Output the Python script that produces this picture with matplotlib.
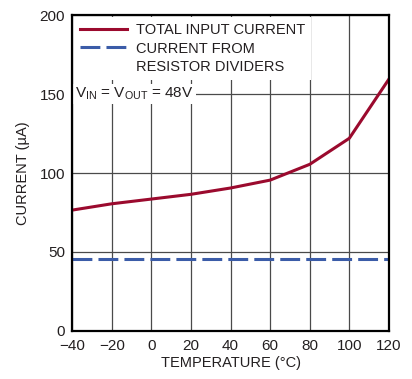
import matplotlib.pyplot as plt

plt.rcParams['font.family'] = ['Liberation Sans', 'DejaVu Sans']
plt.rcParams['mathtext.fontset'] = 'custom'
plt.rcParams['mathtext.rm'] = 'Liberation Sans'
plt.rcParams['mathtext.it'] = 'Liberation Sans'

temp = [-40, -20, 0, 20, 40, 60, 80, 100, 120]
total_current = [76.5, 80.5, 83.5, 86.5, 90.5, 95.5, 105.5, 122, 159.5]
divider_current = [45.5] * len(temp)

txt = '#231f20'
fig = plt.figure(figsize=(4.12, 3.79), dpi=100)
ax = fig.add_axes([0.175, 0.127, 0.769, 0.833])

ax.grid(True, color='#4a4a4a', linewidth=0.9, zorder=0)
ax.plot(temp, total_current, color='#9b0a2e', linewidth=2.2, label='TOTAL INPUT CURRENT', zorder=3)
ax.plot(temp, divider_current, color='#3b5ca8', linewidth=2.2, dashes=(6.5, 2),
        label='CURRENT FROM', zorder=3)
# second line of the dashed entry's label, no handle of its own
ax.plot([], [], color='none', label='RESISTOR DIVIDERS')

ax.set_xlim(-40, 120)
ax.set_ylim(0, 200)
ax.set_xticks(range(-40, 121, 20))
ax.set_yticks(range(0, 201, 50))
ax.tick_params(length=0, labelsize=11, colors=txt)
ax.tick_params(axis='x', pad=6)
ax.tick_params(axis='y', pad=5)
for s in ax.spines.values():
    s.set_linewidth(1.6)
    s.set_zorder(5)

ax.set_xlabel('TEMPERATURE (°C)', fontsize=10.5, color=txt, labelpad=2)
ax.set_ylabel('CURRENT (µA)', fontsize=10.5, color=txt, labelpad=7)

leg = ax.legend(loc='upper left', fontsize=10.5, frameon=True, fancybox=False,
                framealpha=1, edgecolor='none', handlelength=3.2, handletextpad=0.6,
                borderaxespad=0.1, labelspacing=0.3, borderpad=0.45)
for t in leg.get_texts():
    t.set_color(txt)
leg.set_zorder(4)

ax.text(-38.5, 150, r'V$_{\mathrm{IN}}$ = V$_{\mathrm{OUT}}$ = 48V', fontsize=11,
        color=txt, va='center', ha='left', zorder=4,
        bbox=dict(facecolor='white', edgecolor='none', pad=1.5))

fig.savefig('out.png', dpi=100)
